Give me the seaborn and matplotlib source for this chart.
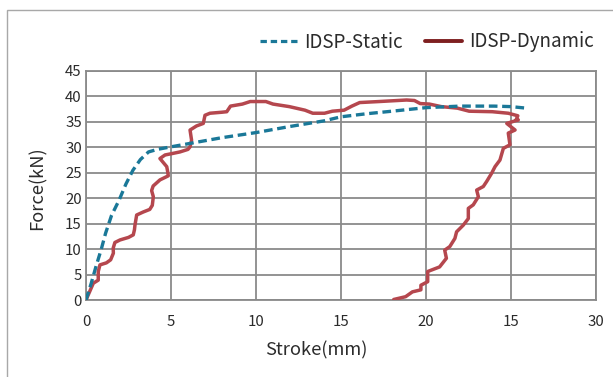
import matplotlib
matplotlib.use("Agg")
import matplotlib.pyplot as plt
from matplotlib.lines import Line2D
from matplotlib.patches import Rectangle
import seaborn as sns
import pandas as pd

# Static test: force vs stroke
static_stroke = [0.0, 0.3, 0.58, 0.9, 1.15, 1.5, 1.95, 2.35, 2.76, 3.2, 3.68, 4.2, 5.0, 6.0, 8.0, 10.0, 12.0, 14.0, 15.0, 16.5, 18.0, 20.0, 22.0, 24.0, 25.0, 25.9]
static_force = [0.0, 3.2, 6.5, 10.0, 13.1, 16.6, 19.65, 22.8, 25.5, 27.6, 29.1, 29.6, 30.1, 30.7, 31.9, 32.9, 34.1, 35.2, 36.0, 36.6, 37.1, 37.8, 38.1, 38.1, 38.0, 37.7]

# Dynamic test: loading then unloading path
dynamic_stroke = [0.0, 0.43, 0.72, 0.72, 0.82, 1.2, 1.45, 1.61, 1.6, 1.7, 2.0, 2.5, 2.78, 2.85, 2.88, 2.98, 3.37, 3.75, 3.9,
                  3.96, 3.86, 3.95, 4.35, 4.84, 4.8, 4.75, 4.35, 4.65, 5.1, 5.53, 6.0, 6.12, 6.21, 6.12, 6.5, 6.9,
                  7.0, 7.29, 8.0, 8.28, 8.5, 9.2, 9.66, 10.58, 11.0, 11.96, 12.88, 13.34, 14.03, 14.49, 15.18,
                  15.64, 16.1, 17.25, 18.86, 19.32, 19.66, 20.2, 20.9, 21.85, 22.54, 23.9, 24.84, 25.4, 25.3,
                  25.43, 24.75, 25.24, 24.84, 24.94, 24.55, 24.35, 24.06, 23.86, 23.57, 23.37, 22.98, 23.08,
                  22.78, 22.49, 22.49, 22.19, 21.8, 21.7, 21.4, 21.1, 21.2, 20.8, 20.1, 20.1, 19.7, 19.7, 19.2,
                  18.8, 18.1]
dynamic_force = [0.0, 3.3, 3.9, 5.6, 6.9, 7.3, 7.9, 9.2, 10.2, 11.3, 11.8, 12.3, 12.8, 13.8, 14.7, 16.7, 17.3, 17.8, 18.6,
                 20.3, 21.5, 22.4, 23.6, 24.4, 25.3, 26.2, 27.8, 28.5, 28.8, 29.1, 29.6, 30.1, 31.4, 33.4, 34.2, 34.7,
                 36.3, 36.7, 36.9, 37.0, 38.1, 38.5, 39.0, 39.0, 38.5, 38.0, 37.3, 36.7, 36.7, 37.1, 37.3,
                 38.1, 38.8, 39.0, 39.3, 39.2, 38.6, 38.5, 38.0, 37.7, 37.1, 37.0, 36.7, 36.2, 35.4,
                 35.4, 34.7, 33.4, 32.8, 30.5, 29.8, 27.5, 26.2, 24.9, 23.3, 22.3, 21.6, 20.3,
                 18.7, 18.0, 16.0, 14.7, 13.4, 12.1, 10.5, 9.8, 8.2, 6.5, 5.6, 3.6, 2.9, 2.0, 1.6,
                 0.65, 0.1]

x_ticks = [0, 5, 10, 15, 20, 25, 30]
x_tick_labels = ["0", "5", "10", "15", "20", "15", "30"]
y_ticks = [0, 5, 10, 15, 20, 25, 30, 35, 40, 45]

static_color = "#1a7898"
dynamic_color = "#b5474e"
dynamic_legend_color = "#7e1f20"
grid_color = "#8a8a8a"
text_color = "#2b2b2b"

sns.set_style("white")
plt.rcParams["font.family"] = ["Noto Sans CJK SC", "DejaVu Sans"]

fig = plt.figure(figsize=(6.13, 3.77), dpi=100)
ax = fig.add_axes([86 / 613, 1 - 300 / 377, 510 / 613, 229 / 377])

static_df = pd.DataFrame({"stroke": static_stroke, "force": static_force})
dynamic_df = pd.DataFrame({"stroke": dynamic_stroke, "force": dynamic_force})

sns.lineplot(data=dynamic_df, x="stroke", y="force", sort=False, estimator=None,
             color=dynamic_color, lw=2.5, ax=ax, zorder=3)
sns.lineplot(data=static_df, x="stroke", y="force", sort=False, estimator=None,
             color=static_color, lw=2.4, ax=ax, zorder=4)
ax.lines[-1].set_linestyle((0, (2.6, 1.4)))
ax.lines[0].set_solid_joinstyle("round")

ax.set_xlim(0, 30)
ax.set_ylim(0, 45)
ax.set_xticks(x_ticks)
ax.set_xticklabels(x_tick_labels)
ax.set_yticks(y_ticks)
ax.grid(True, color=grid_color, lw=1.3)
ax.set_axisbelow(True)
for sp in ax.spines.values():
    sp.set_color(grid_color)
    sp.set_linewidth(1.3)
ax.tick_params(axis="both", length=0, labelsize=10.8, colors=text_color)
ax.tick_params(axis="x", pad=11)
ax.tick_params(axis="y", pad=3)

ax.set_xlabel("Stroke(mm)", fontsize=13.2, color=text_color)
ax.set_ylabel("Force(kN)", fontsize=13.2, color=text_color)
ax.xaxis.set_label_coords(0.451, -0.18)
ax.yaxis.set_label_coords(-0.078, 0.49)

handles = [
    Line2D([], [], color=static_color, lw=2.3, linestyle=(0, (2.0, 1.2))),
    Line2D([], [], color=dynamic_legend_color, lw=2.8),
]
fig.legend(handles, ["IDSP-Static", "IDSP-Dynamic"], loc="center right",
           bbox_to_anchor=(0.996, 1 - 42 / 377), ncol=2, frameon=False,
           fontsize=13.5, handlelength=2.0, handletextpad=0.35, columnspacing=1.2,
           labelcolor=text_color)

fig.add_artist(Rectangle((7 / 613, -0.1), 1.2, 1.1 - 10 / 377, transform=fig.transFigure,
                         fill=False, ec="#a8a8a8", lw=1.0))

fig.savefig("out.png", dpi=100)
